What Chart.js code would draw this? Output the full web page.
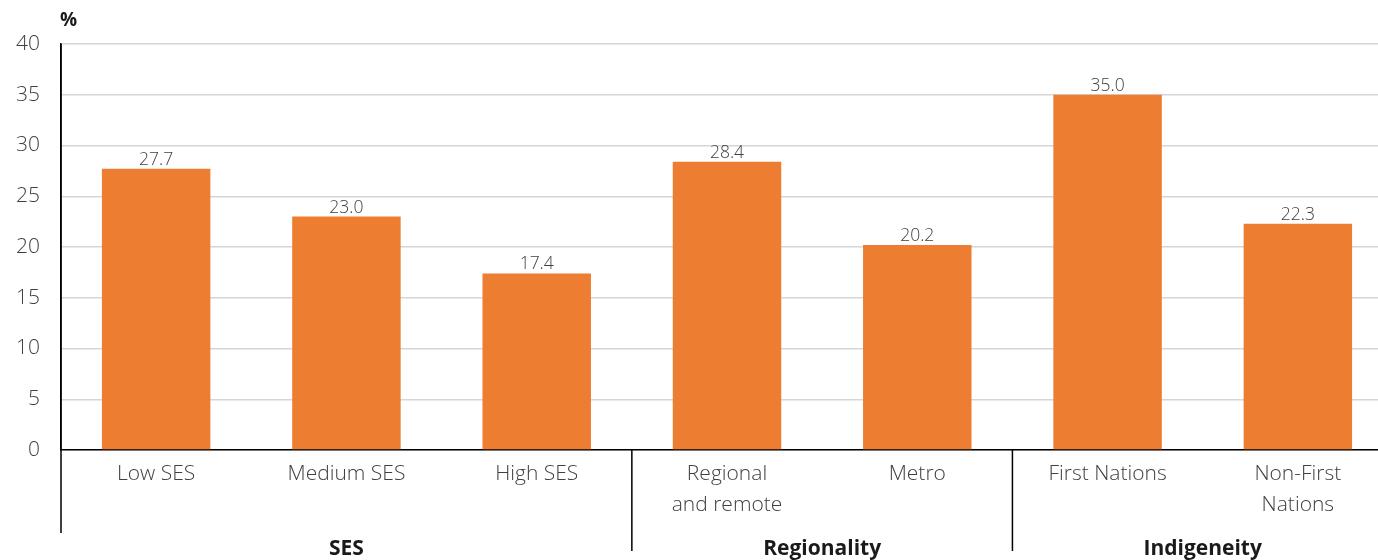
<!DOCTYPE html>
<html>
<head>
<meta charset="utf-8">
<script src="https://cdn.jsdelivr.net/npm/chart.js@4/dist/chart.umd.min.js"></script>
<style>
html,body{margin:0;padding:0;background:#fff;overflow:hidden;width:1378px;height:560px;}
#wrap{position:relative;width:1393px;height:560px;}
</style>
</head>
<body>
<div id="wrap"><canvas id="c" width="1393" height="560"></canvas></div>
<script>
const categories = [
  ['Low SES'], ['Medium SES'], ['High SES'],
  ['Regional', 'and remote'], ['Metro'],
  ['First Nations'], ['Non-First', 'Nations']
];
const values = [27.7, 23.0, 17.4, 28.4, 20.2, 35.0, 22.3];
const groupNames = ['SES', 'Regionality', 'Indigeneity'];
const groupStarts = [0, 3, 5];
const groupEnds = [2, 4, 6];
const yTicks = [0, 5, 10, 15, 20, 25, 30, 35, 40];
const yUnit = '%';

const FONT = "'Open Sans', 'Noto Sans', sans-serif";
const TEXT = '#404040';

const extras = {
  id: 'extras',
  afterDatasetsDraw(chart) {
    const ctx = chart.ctx;
    const meta = chart.getDatasetMeta(0);
    ctx.save();
    ctx.font = '300 17.5px ' + FONT;
    ctx.fillStyle = TEXT;
    ctx.textAlign = 'center';
    ctx.textBaseline = 'alphabetic';
    meta.data.forEach((bar, i) => {
      ctx.fillText(values[i].toFixed(1), bar.x, bar.y - 4);
    });
    ctx.restore();
  },
  afterDraw(chart) {
    const ctx = chart.ctx;
    const xs = chart.scales.x;
    const ca = chart.chartArea;
    ctx.save();
    ctx.strokeStyle = '#000';
    ctx.lineWidth = 1.5;
    // left axis extension
    ctx.beginPath();
    ctx.moveTo(ca.left, ca.top);
    ctx.lineTo(ca.left, 533);
    ctx.stroke();
    // group separators
    for (let g = 1; g < groupStarts.length; g++) {
      const x = (xs.getPixelForValue(groupStarts[g]) + xs.getPixelForValue(groupEnds[g-1])) / 2;
      ctx.beginPath();
      ctx.moveTo(x, ca.bottom);
      ctx.lineTo(x, 551);
      ctx.stroke();
    }
    // group labels
    ctx.font = 'bold 21px ' + FONT;
    ctx.fillStyle = '#1a1a1a';
    ctx.textAlign = 'center';
    ctx.textBaseline = 'alphabetic';
    groupNames.forEach((name, g) => {
      const x = (xs.getPixelForValue(groupStarts[g]) + xs.getPixelForValue(groupEnds[g])) / 2;
      ctx.fillText(name, x, 555);
    });
    // unit label
    ctx.font = 'bold 19px ' + FONT;
    ctx.textAlign = 'left';
    ctx.fillText(yUnit, 60, 26);
    ctx.restore();
  }
};

new Chart(document.getElementById('c'), {
  type: 'bar',
  data: {
    labels: categories,
    datasets: [{
      data: values,
      backgroundColor: '#ED7D31',
      borderWidth: 0,
      barPercentage: 0.57,
      categoryPercentage: 1.0
    }]
  },
  options: {
    responsive: false,
    animation: false,
    events: [],
    layout: { padding: { top: 44, left: 0, right: 0, bottom: 0 } },
    plugins: { legend: { display: false }, tooltip: { enabled: false } },
    scales: {
      x: {
        grid: { display: false, drawTicks: false },
        border: { display: true, color: '#000', width: 1.5 },
        ticks: {
          color: TEXT,
          font: { family: FONT, size: 21, weight: '300', lineHeight: 1.45 },
          padding: 9,
          maxRotation: 0,
          autoSkip: false
        },
        afterFit(scale) { scale.height = 110; }
      },
      y: {
        min: 0, max: 40,
        afterBuildTicks(scale) { scale.ticks = yTicks.map(v => ({ value: v })); },
        grid: { color: '#d6d6d6', lineWidth: 1.5, drawTicks: false },
        border: { display: true, color: '#000', width: 1.5 },
        ticks: {
          color: TEXT,
          font: { family: FONT, size: 21, weight: '300' },
          padding: 21
        },
        afterFit(scale) { scale.width = 61; }
      }
    }
  },
  plugins: [extras]
});
</script>
</body>
</html>
